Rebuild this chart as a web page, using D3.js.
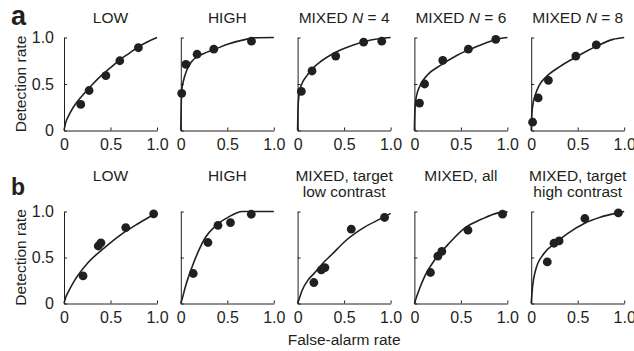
<!DOCTYPE html>
<html>
<head>
<meta charset="utf-8">
<script src="https://cdn.jsdelivr.net/npm/d3@7"></script>
<style>
  html, body { margin: 0; padding: 0; background: #fff; }
  svg { display: block; font-family: "Liberation Sans", Arial, Helvetica, sans-serif; }
  text { fill: #231f20; }
</style>
</head>
<body>
<svg id="chart" width="634" height="351"></svg>
<script>
// ── data ─────────────────────────────────────────────────
const xTicks = [0, 0.5, 1];
const yTicks = [0, 0.5, 1];

const titlesA = [["LOW"], ["HIGH"], ["MIXED N = 4"], ["MIXED N = 6"], ["MIXED N = 8"]];
const titlesB = [["LOW"], ["HIGH"], ["MIXED, target", "low contrast"], ["MIXED, all"], ["MIXED, target", "high contrast"]];

// [false-alarm rate, detection rate]
const dotsA = [
  [[0.18, 0.28], [0.27, 0.43], [0.45, 0.59], [0.60, 0.75], [0.80, 0.89]],
  [[0.01, 0.40], [0.055, 0.71], [0.175, 0.82], [0.355, 0.875], [0.76, 0.96]],
  [[0.04, 0.42], [0.155, 0.64], [0.41, 0.80], [0.71, 0.95], [0.905, 0.96]],
  [[0.055, 0.295], [0.11, 0.50], [0.305, 0.755], [0.58, 0.875], [0.875, 0.98]],
  [[0.015, 0.09], [0.075, 0.35], [0.185, 0.54], [0.48, 0.80], [0.70, 0.92]]
];
const fitsA = [
  [[0, 0], [0.02, 0.09], [0.05, 0.16], [0.1, 0.25], [0.2, 0.38], [0.3, 0.49], [0.4, 0.59], [0.5, 0.675], [0.6, 0.76], [0.7, 0.83], [0.8, 0.9], [0.9, 0.955], [1, 1]],
  [[0, 0], [0.003, 0.2], [0.01, 0.43], [0.03, 0.54], [0.065, 0.65], [0.12, 0.745], [0.23, 0.82], [0.37, 0.875], [0.51, 0.93], [0.7, 0.98], [0.8, 0.997], [1, 1]],
  [[0, 0], [0.005, 0.25], [0.02, 0.42], [0.05, 0.51], [0.1, 0.59], [0.155, 0.66], [0.26, 0.75], [0.36, 0.815], [0.46, 0.865], [0.6, 0.92], [0.8, 0.975], [1, 1]],
  [[0, 0], [0.005, 0.2], [0.02, 0.36], [0.065, 0.49], [0.137, 0.594], [0.28, 0.70], [0.46, 0.81], [0.64, 0.89], [0.82, 0.96], [0.92, 0.99], [1, 1]],
  [[0, 0], [0.004, 0.12], [0.014, 0.25], [0.05, 0.40], [0.086, 0.486], [0.159, 0.576], [0.303, 0.684], [0.483, 0.79], [0.70, 0.905], [0.88, 0.98], [1, 1]]
];

const dotsB = [
  [[0.205, 0.30], [0.368, 0.625], [0.397, 0.66], [0.664, 0.825], [0.964, 0.975]],
  [[0.134, 0.326], [0.292, 0.663], [0.40, 0.85], [0.534, 0.88], [0.758, 0.97]],
  [[0.175, 0.228], [0.255, 0.365], [0.294, 0.39], [0.577, 0.808], [0.935, 0.935]],
  [[0.173, 0.337], [0.252, 0.514], [0.295, 0.566], [0.576, 0.797], [0.948, 0.971]],
  [[0.173, 0.452], [0.245, 0.655], [0.30, 0.68], [0.577, 0.924], [0.937, 0.985]]
];
const fitsB = [
  [[0, 0], [0.02, 0.07], [0.043, 0.12], [0.116, 0.254], [0.26, 0.446], [0.44, 0.61], [0.62, 0.754], [0.8, 0.87], [0.9, 0.93], [1, 0.99]],
  [[0, 0], [0.02, 0.07], [0.047, 0.174], [0.119, 0.391], [0.191, 0.572], [0.264, 0.717], [0.372, 0.844], [0.516, 0.942], [0.6, 0.985], [0.66, 1.0], [1, 1]],
  [[0, 0], [0.02, 0.06], [0.047, 0.138], [0.119, 0.264], [0.18, 0.33], [0.264, 0.43], [0.37, 0.535], [0.52, 0.685], [0.72, 0.83], [0.9, 0.925], [1, 0.98]],
  [[0, 0], [0.036, 0.109], [0.108, 0.29], [0.216, 0.47], [0.36, 0.64], [0.54, 0.82], [0.72, 0.915], [0.9, 0.985], [1, 0.996]],
  [[0, 0], [0.011, 0.145], [0.047, 0.362], [0.137, 0.543], [0.245, 0.645], [0.39, 0.76], [0.57, 0.87], [0.75, 0.94], [0.93, 0.985], [1, 1]]
];

// ── layout ───────────────────────────────────────────────
const INK = "#231f20";
const panelW = 93, step = 116.8, left0 = 64;
const TICK_FS = 16, LABEL_FS = 15.5;
const rows = [
  { letter: "a", top: 37.5, h: 93, titles: titlesA, dots: dotsA, fits: fitsA, titleY: 23, letterY: 25, letterSize: 27 },
  { letter: "b", top: 211.5, h: 92, titles: titlesB, dots: dotsB, fits: fitsB, titleY: 180.5, letterY: 195, letterSize: 23 }
];

const svg = d3.select("#chart");
const fmt = d => d === 0 ? "0" : d3.format(".1f")(d);

rows.forEach(row => {
  const x = d3.scaleLinear().domain([0, 1]).range([0, panelW]);
  const y = d3.scaleLinear().domain([0, 1]).range([row.h, 0]);
  const line = d3.line().x(d => x(d[0])).y(d => y(d[1])).curve(d3.curveMonotoneX);

  svg.append("text")
    .attr("x", 11).attr("y", row.letterY)
    .attr("font-size", row.letterSize).attr("font-weight", "bold")
    .text(row.letter);

  svg.append("text")
    .attr("transform", `translate(25.5,${row.top + row.h / 2}) rotate(-90)`)
    .attr("text-anchor", "middle")
    .attr("font-size", LABEL_FS)
    .text("Detection rate");

  row.titles.forEach((lines, i) => {
    const g = svg.append("g").attr("transform", `translate(${left0 + i * step},${row.top})`);

    const t = svg.append("text")
      .attr("text-anchor", "middle")
      .attr("font-size", LABEL_FS);
    lines.forEach((ln, k) => {
      const cx = left0 + i * step + panelW / 2;
      const ty = row.titleY + k * 16.5;
      const m = ln.match(/^(.*)N( = .*)$/);
      if (m) {
        const tl = t.append("tspan").attr("x", cx).attr("y", ty);
        tl.append("tspan").text(m[1]);
        tl.append("tspan").attr("font-style", "italic").text("N");
        tl.append("tspan").text(m[2]);
      } else {
        t.append("tspan").attr("x", cx).attr("y", ty).text(ln);
      }
    });

    const xAxis = g.append("g")
      .attr("transform", `translate(0,${row.h})`)
      .call(d3.axisBottom(x).tickValues(xTicks).tickFormat(fmt).tickSizeInner(-3).tickSizeOuter(0).tickPadding(8));
    const yAxis = g.append("g")
      .call(d3.axisLeft(y).tickValues(yTicks).tickFormat(i === 0 ? fmt : "").tickSizeInner(-3).tickSizeOuter(0).tickPadding(10));

    [xAxis, yAxis].forEach(ax => {
      ax.selectAll("path, line").attr("stroke", INK).attr("stroke-width", 1);
      ax.selectAll("text").attr("font-size", TICK_FS).attr("fill", INK)
        .attr("font-family", "Liberation Sans, Arial, Helvetica, sans-serif");
    });

    g.append("path")
      .datum(row.fits[i])
      .attr("d", line)
      .attr("fill", "none")
      .attr("stroke", INK)
      .attr("stroke-width", 1.6);

    g.selectAll("circle")
      .data(row.dots[i])
      .join("circle")
      .attr("cx", d => x(d[0]))
      .attr("cy", d => y(d[1]))
      .attr("r", 4.4)
      .attr("fill", INK);
  });
});

svg.append("text")
  .attr("x", left0 + 2 * step + panelW / 2).attr("y", 345)
  .attr("text-anchor", "middle")
  .attr("font-size", LABEL_FS)
  .text("False-alarm rate");
</script>
</body>
</html>
